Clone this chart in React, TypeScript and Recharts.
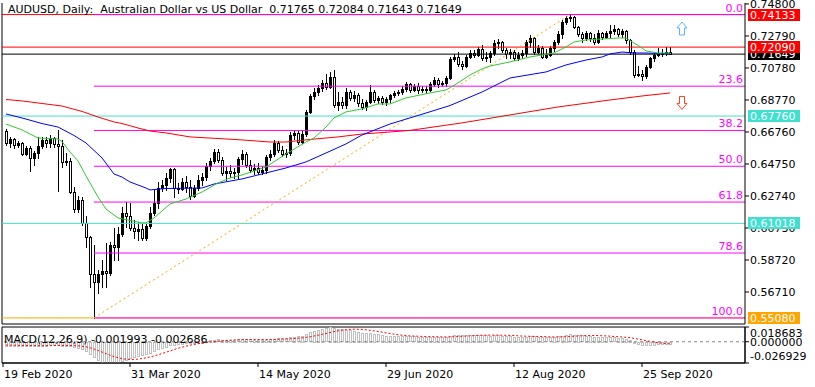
import {
  Bar,
  ComposedChart,
  Line,
  ReferenceArea,
  ReferenceDot,
  ReferenceLine,
  XAxis,
  YAxis,
} from 'recharts';

const FONT = '"DejaVu Sans", Verdana, sans-serif';

// daily bars from 19 Feb 2020: [open, high, low, close]
const candles: number[][] = [
  [0.6682, 0.6695, 0.6594, 0.6607], [0.6607, 0.6645, 0.6582, 0.6632], [0.6632, 0.6638, 0.6576, 0.6594],
  [0.6594, 0.6619, 0.6582, 0.6607], [0.6607, 0.6613, 0.6532, 0.6538], [0.6538, 0.6588, 0.6532, 0.6576],
  [0.6576, 0.6588, 0.6431, 0.6513], [0.6513, 0.6557, 0.6469, 0.6544], [0.6544, 0.6645, 0.6513, 0.6588],
  [0.6588, 0.6645, 0.6576, 0.6626], [0.6626, 0.6645, 0.6582, 0.6607], [0.6607, 0.6657, 0.6582, 0.6638],
  [0.6638, 0.6645, 0.6582, 0.6601], [0.6601, 0.6689, 0.6306, 0.6588], [0.6588, 0.6626, 0.6456, 0.6488],
  [0.6488, 0.6544, 0.6469, 0.6494], [0.6494, 0.6513, 0.6293, 0.6299], [0.6299, 0.6331, 0.6174, 0.6192],
  [0.6192, 0.6274, 0.6174, 0.6249], [0.6249, 0.6268, 0.6092, 0.6105], [0.6105, 0.6148, 0.5954, 0.6017],
  [0.6017, 0.6023, 0.5703, 0.5784], [0.5784, 0.5966, 0.5508, 0.5734], [0.5734, 0.5809, 0.5665, 0.5784],
  [0.5784, 0.5872, 0.5703, 0.5803], [0.5803, 0.5979, 0.5703, 0.5791], [0.5791, 0.5985, 0.5778, 0.5966],
  [0.5966, 0.6073, 0.5872, 0.5954], [0.5954, 0.6080, 0.5872, 0.6035], [0.6035, 0.6205, 0.6023, 0.6167],
  [0.6167, 0.6236, 0.6080, 0.6148], [0.6148, 0.6230, 0.6061, 0.6073], [0.6073, 0.6123, 0.6010, 0.6054],
  [0.6054, 0.6111, 0.5998, 0.6067], [0.6067, 0.6098, 0.5998, 0.6010], [0.6010, 0.6098, 0.5998, 0.6086],
  [0.6086, 0.6205, 0.6073, 0.6167], [0.6167, 0.6312, 0.6155, 0.6230], [0.6230, 0.6362, 0.6199, 0.6324],
  [0.6324, 0.6375, 0.6306, 0.6343], [0.6343, 0.6419, 0.6312, 0.6387], [0.6387, 0.6450, 0.6362, 0.6444],
  [0.6444, 0.6450, 0.6268, 0.6324], [0.6324, 0.6356, 0.6293, 0.6318], [0.6318, 0.6387, 0.6312, 0.6362],
  [0.6362, 0.6400, 0.6299, 0.6331], [0.6331, 0.6375, 0.6255, 0.6274], [0.6274, 0.6343, 0.6268, 0.6324],
  [0.6324, 0.6406, 0.6312, 0.6375], [0.6375, 0.6419, 0.6343, 0.6393], [0.6393, 0.6481, 0.6375, 0.6463],
  [0.6463, 0.6513, 0.6437, 0.6494], [0.6494, 0.6569, 0.6481, 0.6550], [0.6550, 0.6569, 0.6488, 0.6500],
  [0.6500, 0.6519, 0.6406, 0.6419], [0.6419, 0.6456, 0.6375, 0.6431], [0.6431, 0.6469, 0.6393, 0.6419],
  [0.6419, 0.6450, 0.6387, 0.6425], [0.6425, 0.6519, 0.6387, 0.6507], [0.6507, 0.6563, 0.6475, 0.6538],
  [0.6538, 0.6550, 0.6456, 0.6469], [0.6469, 0.6500, 0.6425, 0.6437], [0.6437, 0.6475, 0.6412, 0.6450],
  [0.6450, 0.6481, 0.6412, 0.6425], [0.6425, 0.6463, 0.6412, 0.6437], [0.6437, 0.6532, 0.6419, 0.6519],
  [0.6519, 0.6563, 0.6500, 0.6538], [0.6538, 0.6626, 0.6525, 0.6607], [0.6607, 0.6619, 0.6550, 0.6563],
  [0.6563, 0.6588, 0.6525, 0.6538], [0.6538, 0.6569, 0.6519, 0.6544], [0.6544, 0.6676, 0.6532, 0.6657],
  [0.6657, 0.6689, 0.6632, 0.6670], [0.6670, 0.6682, 0.6601, 0.6613], [0.6613, 0.6682, 0.6607, 0.6663],
  [0.6663, 0.6814, 0.6651, 0.6802], [0.6802, 0.6915, 0.6795, 0.6902], [0.6902, 0.6952, 0.6883, 0.6927],
  [0.6927, 0.6971, 0.6908, 0.6952], [0.6952, 0.7003, 0.6934, 0.6984], [0.6984, 0.7040, 0.6946, 0.6959],
  [0.6959, 0.7053, 0.6952, 0.7021], [0.7021, 0.7065, 0.6833, 0.6846], [0.6846, 0.6927, 0.6814, 0.6864],
  [0.6864, 0.6896, 0.6827, 0.6846], [0.6846, 0.6952, 0.6827, 0.6927], [0.6927, 0.6940, 0.6877, 0.6890],
  [0.6890, 0.6934, 0.6871, 0.6908], [0.6908, 0.6921, 0.6839, 0.6858], [0.6858, 0.6883, 0.6820, 0.6833],
  [0.6833, 0.6877, 0.6814, 0.6864], [0.6864, 0.6971, 0.6858, 0.6927], [0.6927, 0.6940, 0.6864, 0.6877],
  [0.6877, 0.6902, 0.6858, 0.6890], [0.6890, 0.6902, 0.6852, 0.6864], [0.6864, 0.6896, 0.6846, 0.6883],
  [0.6883, 0.6915, 0.6864, 0.6908], [0.6908, 0.6934, 0.6896, 0.6921], [0.6921, 0.6940, 0.6908, 0.6927],
  [0.6927, 0.6965, 0.6915, 0.6946], [0.6946, 0.6990, 0.6934, 0.6977], [0.6977, 0.6984, 0.6927, 0.6940],
  [0.6940, 0.6977, 0.6934, 0.6965], [0.6965, 0.6984, 0.6921, 0.6940], [0.6940, 0.6965, 0.6927, 0.6946],
  [0.6946, 0.6965, 0.6921, 0.6940], [0.6940, 0.6990, 0.6934, 0.6977], [0.6977, 0.7021, 0.6965, 0.7003],
  [0.7003, 0.7015, 0.6959, 0.6977], [0.6977, 0.6996, 0.6965, 0.6984], [0.6984, 0.7028, 0.6965, 0.7015],
  [0.7015, 0.7147, 0.7009, 0.7134], [0.7134, 0.7166, 0.7122, 0.7147], [0.7147, 0.7178, 0.7090, 0.7103],
  [0.7103, 0.7122, 0.7072, 0.7090], [0.7090, 0.7160, 0.7084, 0.7147], [0.7147, 0.7191, 0.7141, 0.7172],
  [0.7172, 0.7191, 0.7147, 0.7160], [0.7160, 0.7210, 0.7153, 0.7197], [0.7197, 0.7222, 0.7128, 0.7141],
  [0.7141, 0.7178, 0.7122, 0.7147], [0.7147, 0.7185, 0.7116, 0.7172], [0.7172, 0.7254, 0.7160, 0.7235],
  [0.7235, 0.7260, 0.7204, 0.7241], [0.7241, 0.7248, 0.7178, 0.7191], [0.7191, 0.7204, 0.7141, 0.7166],
  [0.7166, 0.7197, 0.7141, 0.7178], [0.7178, 0.7191, 0.7128, 0.7141], [0.7141, 0.7178, 0.7128, 0.7160],
  [0.7160, 0.7191, 0.7141, 0.7172], [0.7172, 0.7254, 0.7153, 0.7241], [0.7241, 0.7285, 0.7210, 0.7266],
  [0.7266, 0.7273, 0.7166, 0.7178], [0.7178, 0.7222, 0.7172, 0.7204], [0.7204, 0.7216, 0.7141, 0.7147],
  [0.7147, 0.7197, 0.7141, 0.7160], [0.7160, 0.7216, 0.7153, 0.7204], [0.7204, 0.7254, 0.7185, 0.7241],
  [0.7241, 0.7310, 0.7229, 0.7291], [0.7291, 0.7379, 0.7266, 0.7367], [0.7367, 0.7405, 0.7354, 0.7392],
  [0.7392, 0.7413, 0.7373, 0.7398], [0.7398, 0.7405, 0.7329, 0.7335], [0.7335, 0.7342, 0.7279, 0.7291],
  [0.7291, 0.7304, 0.7241, 0.7266], [0.7266, 0.7310, 0.7254, 0.7298], [0.7298, 0.7304, 0.7248, 0.7266],
  [0.7266, 0.7291, 0.7229, 0.7241], [0.7241, 0.7317, 0.7235, 0.7298], [0.7298, 0.7304, 0.7260, 0.7273],
  [0.7273, 0.7310, 0.7266, 0.7298], [0.7298, 0.7348, 0.7273, 0.7310], [0.7310, 0.7348, 0.7291, 0.7323],
  [0.7323, 0.7329, 0.7279, 0.7291], [0.7291, 0.7323, 0.7273, 0.7310], [0.7310, 0.7317, 0.7235, 0.7254],
  [0.7254, 0.7260, 0.7166, 0.7178], [0.7178, 0.7191, 0.7021, 0.7034], [0.7034, 0.7090, 0.7028, 0.7040],
  [0.7040, 0.7065, 0.7003, 0.7028], [0.7028, 0.7097, 0.7015, 0.7084], [0.7084, 0.7147, 0.7078, 0.7141],
  [0.7141, 0.7172, 0.7122, 0.7160], [0.7160, 0.7204, 0.7153, 0.7166], [0.7166, 0.7197, 0.7153, 0.7172],
  [0.7172, 0.7210, 0.7160, 0.7178], [0.71765, 0.72084, 0.71643, 0.71649],
];

const maFast = [
  [0, 0.6726], [4, 0.6689], [8, 0.6638], [13, 0.6632], [14, 0.6616], [16, 0.655], [18, 0.6494],
  [20, 0.64], [23, 0.6268], [25, 0.6192], [28, 0.6136], [34, 0.6105], [35, 0.6105], [37, 0.6136],
  [41, 0.6224], [45, 0.6255], [49, 0.6299], [53, 0.6356], [56, 0.6387], [59, 0.6406], [65, 0.6456],
  [70, 0.6538], [75, 0.6613], [77, 0.6638], [80, 0.6707], [82, 0.6764], [85, 0.6802], [89, 0.6821],
  [93, 0.6852], [96, 0.6852], [100, 0.689], [106, 0.6921], [110, 0.694], [113, 0.6984], [116, 0.7034],
  [119, 0.7072], [121, 0.709], [126, 0.7116], [131, 0.7147], [137, 0.7172], [140, 0.721], [142, 0.7241],
  [145, 0.7254], [149, 0.726], [153, 0.7266], [155, 0.7266], [157, 0.7235], [159, 0.7204], [160, 0.7185],
  [163, 0.7172], [166, 0.7172],
];
const maMid = [
  [0, 0.6789], [4, 0.6764], [9, 0.6729], [13, 0.6707], [17, 0.6654], [20, 0.6607], [24, 0.6513],
  [27, 0.6412], [29, 0.6393], [31, 0.6362], [35, 0.6324], [36, 0.6312], [40, 0.6321], [49, 0.6324],
  [52, 0.6349], [59, 0.6381], [63, 0.6406], [70, 0.645], [75, 0.6488], [80, 0.6544], [85, 0.6601],
  [89, 0.6657], [96, 0.6726], [105, 0.6795], [111, 0.6842], [119, 0.6927], [126, 0.7015], [135, 0.7053],
  [140, 0.7097], [145, 0.7128], [149, 0.7147], [151, 0.7166], [154, 0.7178], [157, 0.7172], [160, 0.7172],
  [166, 0.7166],
];
const maSlow = [
  [0, 0.688], [4, 0.6871], [9, 0.6855], [14, 0.6839], [19, 0.6805], [23, 0.677], [27, 0.6739],
  [29, 0.6729], [33, 0.6701], [36, 0.6682], [40, 0.667], [46, 0.6645], [53, 0.6635], [59, 0.6626],
  [66, 0.6613], [70, 0.6613], [76, 0.6629], [83, 0.6645], [89, 0.6663], [96, 0.6676], [101, 0.6686],
  [114, 0.6733], [126, 0.6783], [138, 0.6833], [151, 0.6877], [159, 0.6902], [166, 0.6921],
];

const macdMain = [
  -0.0045, -0.0046, -0.0047, -0.0047, -0.0049, -0.005, -0.0053, -0.0054, -0.0052, -0.0049,
  -0.0047, -0.0044, -0.0043, -0.0042, -0.0045, -0.0047, -0.0056, -0.0068, -0.0078, -0.0095,
  -0.0118, -0.0152, -0.0185, -0.0225, -0.0248, -0.0262, -0.0269, -0.0265, -0.0255, -0.0238,
  -0.0222, -0.0208, -0.0195, -0.0182, -0.017, -0.0156, -0.0135, -0.0115, -0.0095, -0.0078,
  -0.006, -0.0042, -0.0035, -0.0028, -0.002, -0.0015, -0.0013, -0.0009, -0.0003, 0.0002,
  0.001, 0.0018, 0.0028, 0.0031, 0.0028, 0.0027, 0.0025, 0.0024, 0.0031, 0.0037,
  0.0035, 0.003, 0.0027, 0.0022, 0.002, 0.0026, 0.0032, 0.0041, 0.0043, 0.0042,
  0.0042, 0.0055, 0.0066, 0.0068, 0.0075, 0.0095, 0.012, 0.0138, 0.0152, 0.0165,
  0.017, 0.0187, 0.0173, 0.0166, 0.0157, 0.0155, 0.0146, 0.0139, 0.0128, 0.0116,
  0.0109, 0.0108, 0.01, 0.0093, 0.0085, 0.0079, 0.0076, 0.0073, 0.0071, 0.007,
  0.0072, 0.0069, 0.0068, 0.0064, 0.0061, 0.0058, 0.0059, 0.0062, 0.006, 0.0059,
  0.0061, 0.0072, 0.0082, 0.0084, 0.0083, 0.0086, 0.0089, 0.0089, 0.0091, 0.0085,
  0.008, 0.0078, 0.0082, 0.0083, 0.0078, 0.0074, 0.0071, 0.0066, 0.0063, 0.0061,
  0.0066, 0.0071, 0.0067, 0.0065, 0.0059, 0.0056, 0.0056, 0.006, 0.0068, 0.0078,
  0.0086, 0.0092, 0.009, 0.0086, 0.008, 0.0077, 0.0072, 0.0066, 0.0065, 0.0061,
  0.0058, 0.0056, 0.0054, 0.0049, 0.0046, 0.0038, 0.0022, -0.0004, -0.0021, -0.0036,
  -0.0041, -0.0037, -0.0033, -0.0028, -0.0025, -0.0021, -0.002,
];
const macdSignal = [
  -0.0042, -0.0043, -0.0044, -0.0045, -0.0046, -0.0047, -0.0048, -0.0049, -0.005, -0.005,
  -0.005, -0.0049, -0.0048, -0.0047, -0.0047, -0.0046, -0.0047, -0.0049, -0.0052, -0.0057,
  -0.0064, -0.0076, -0.0092, -0.011, -0.013, -0.015, -0.017, -0.0188, -0.0203, -0.0214,
  -0.0221, -0.0224, -0.0224, -0.022, -0.0213, -0.0204, -0.0193, -0.018, -0.0165, -0.015,
  -0.0133, -0.0116, -0.01, -0.0084, -0.0069, -0.0056, -0.0044, -0.0034, -0.0025, -0.0018,
  -0.0012, -0.0006, 0.0001, 0.0007, 0.0012, 0.0016, 0.002, 0.0023, 0.0025, 0.0027,
  0.0028, 0.0029, 0.0029, 0.0029, 0.0028, 0.0028, 0.0028, 0.0029, 0.0031, 0.0033,
  0.0035, 0.0037, 0.0041, 0.0045, 0.0049, 0.0055, 0.0063, 0.0072, 0.0083, 0.0094,
  0.0105, 0.0117, 0.0128, 0.0138, 0.0146, 0.0153, 0.0157, 0.0159, 0.0158, 0.0156,
  0.0151, 0.0145, 0.0138, 0.013, 0.0121, 0.0112, 0.0104, 0.0096, 0.0089, 0.0083,
  0.0078, 0.0074, 0.0072, 0.007, 0.0068, 0.0066, 0.0065, 0.0064, 0.0063, 0.0062,
  0.0061, 0.0062, 0.0064, 0.0067, 0.0069, 0.0072, 0.0075, 0.0078, 0.0081, 0.0083,
  0.0084, 0.0084, 0.0084, 0.0084, 0.0083, 0.0082, 0.008, 0.0078, 0.0075, 0.0072,
  0.007, 0.0069, 0.0068, 0.0067, 0.0066, 0.0064, 0.0062, 0.0061, 0.0061, 0.0062,
  0.0064, 0.0067, 0.007, 0.0073, 0.0076, 0.0078, 0.0079, 0.0079, 0.0078, 0.0076,
  0.0074, 0.0071, 0.0067, 0.0064, 0.006, 0.0056, 0.0051, 0.0043, 0.0034, 0.0024,
  0.0014, 0.0005, -0.0004, -0.0012, -0.0018, -0.0023, -0.0027,
];

const priceTicks = [0.5671, 0.5872, 0.6073, 0.6274, 0.6475, 0.6676, 0.6877, 0.7078, 0.7279, 0.748];
const macdTicks = [0.018683, 0, -0.026929];
const dateTickBars = [-0.75, 31, 63, 95, 127, 159];
const dateTickLabels = ['19 Feb 2020', '31 Mar 2020', '14 May 2020', '29 Jun 2020', '12 Aug 2020', '25 Sep 2020'];

const priceLines = [
  { price: 0.5508, color: '#ffa500' },
  { price: 0.61018, color: '#40e0d0' },
  { price: 0.6776, color: '#40e0d0' },
  { price: 0.71649, color: '#000000' },
  { price: 0.7209, color: '#ff0000' },
  { price: 0.74133, color: '#ff0000' },
];

const fibLow = 0.5508;
const fibHigh = 0.74133;
const fibLowBar = 22;
const fibHighBar = 141;
const fibLevels = [0, 23.6, 38.2, 50, 61.8, 78.6, 100];

const X_MIN = -1;
const X_MAX = 184.75;
const P_MIN = 0.547;
const P_MAX = 0.7486;

const rows: any[] = candles.map((c, i) => ({
  i,
  open: c[0],
  high: c[1],
  low: c[2],
  close: c[3],
  macd: macdMain[i],
  signal: macdSignal[i],
  fast: null,
  mid: null,
  slow: null,
}));
maFast.forEach(([b, v]) => (rows[b].fast = v));
maMid.forEach(([b, v]) => (rows[b].mid = v));
maSlow.forEach(([b, v]) => (rows[b].slow = v));

const Candle = (props: any) => {
  const { x, y, width, height, payload } = props;
  if (!payload || payload.high == null) return null;
  const { open, high, low, close } = payload;
  const top = Math.min(y, y + height);
  const h = Math.abs(height);
  const k = high === low ? 0 : h / (high - low);
  const cx = Math.round(x + width / 2);
  const yo = top + (high - open) * k;
  const yc = top + (high - close) * k;
  const bTop = Math.round(Math.min(yo, yc));
  const bBot = Math.round(Math.max(yo, yc));
  const bull = close >= open;
  return (
    <g>
      <line x1={cx + 0.5} x2={cx + 0.5} y1={Math.round(top)} y2={Math.round(top + h) + 1} stroke="#000" />
      <rect x={cx - 0.5} y={bTop + 0.5} width={2} height={Math.max(bBot - bTop, 0)} fill={bull ? '#000' : '#fff'} stroke="#000" />
    </g>
  );
};

const MacdBar = (props: any) => {
  const { x, y, width, height } = props;
  if (x == null || y == null) return null;
  const cx = Math.round(x + width / 2);
  const top = Math.round(Math.min(y, y + height));
  const h = Math.max(Math.round(Math.abs(height)), 1);
  return <rect x={cx - 0.5} y={top + 0.5} width={2} height={h} fill="none" stroke="#c0c0c0" />;
};

const PriceTag = (props: any) => {
  const { viewBox, text, bg } = props;
  if (!viewBox) return null;
  const x = viewBox.x + viewBox.width + 3;
  const y = Math.round(viewBox.y);
  return (
    <g>
      <rect x={x} y={y - 6} width={52} height={12} fill={bg} />
      <text x={x + 2} y={y + 4} fill="#fff" fontSize={11} fontFamily={FONT}>
        {text}
      </text>
    </g>
  );
};

const FibLabel = (props: any) => {
  const { viewBox, text } = props;
  if (!viewBox) return null;
  return (
    <text x={viewBox.x + viewBox.width - 2} y={viewBox.y - 3} textAnchor="end" fill="#ff00ff" fontSize={11} fontFamily={FONT}>
      {text}
    </text>
  );
};

const Arrow = (props: any) => {
  const { cx, cy, up, color } = props;
  const s = up ? 1 : -1;
  const pts = [
    [-5, 0], [0, -6], [5, 0], [2.5, 0], [2.5, 7], [-2.5, 7], [-2.5, 0],
  ]
    .map(([px, py]) => `${cx + px},${cy + s * py}`)
    .join(' ');
  return <polygon points={pts} fill="#fff" stroke={color} strokeWidth={1} />;
};

const DateTick = (props: any) => {
  const { x, y, index } = props;
  return (
    <text x={x + 1} y={y + 9} fontSize={11} fontFamily={FONT} fill="#000">
      {dateTickLabels[index]}
    </text>
  );
};

const MacdTick = (props: any) => {
  const { x, y, payload } = props;
  const v = payload.value;
  const dy = v > 0 ? 6 : v < 0 ? -7 : 0;
  return (
    <text x={x} y={y + dy + 4} fontSize={11} fontFamily={FONT} fill="#000">
      {v.toFixed(6)}
    </text>
  );
};

export default function App() {
  const fibRange = fibHigh - fibLow;
  const box = { position: 'absolute' as const, left: 0, top: 0 };
  return (
    <div style={{ position: 'absolute', left: 0, top: 0, width: 815, height: 387, background: '#fff', fontFamily: FONT }}>
      <div style={box}>
        <ComposedChart width={815} height={326} data={rows} margin={{ top: 3, right: 0, bottom: 2, left: 2 }}>
          <XAxis dataKey="i" type="number" domain={[X_MIN, X_MAX]} hide allowDataOverflow />
          <YAxis
            orientation="right"
            width={70}
            domain={[P_MIN, P_MAX]}
            allowDataOverflow
            ticks={priceTicks}
            interval={0}
            tickFormatter={(v: number) => v.toFixed(5)}
            tick={{ fontSize: 11, fill: '#000', fontFamily: FONT }}
            tickSize={4}
            tickMargin={1}
            axisLine={{ stroke: '#000' }}
            tickLine={{ stroke: '#000' }}
          />
          <ReferenceLine x={X_MIN} stroke="#000" />
          <ReferenceLine y={P_MIN} stroke="#000" />
          {priceLines.map((p) => (
            <ReferenceLine key={p.price} y={p.price} stroke={p.color} />
          ))}
          {fibLevels.map((lv) => {
            const v = fibHigh - (fibRange * lv) / 100;
            return (
              <ReferenceLine
                key={lv}
                segment={[{ x: fibLowBar, y: v }, { x: X_MAX, y: v }]}
                stroke="#ff00ff"
                label={<FibLabel text={lv.toFixed(1)} />}
              />
            );
          })}
          <ReferenceLine
            segment={[{ x: fibLowBar, y: fibLow }, { x: fibHighBar, y: fibHigh }]}
            stroke="#ffa500"
            strokeDasharray="2 3"
          />
          <Line dataKey="slow" stroke="#ff0000" dot={false} connectNulls isAnimationActive={false} strokeWidth={1} />
          <Line dataKey="mid" stroke="#0000ff" dot={false} connectNulls isAnimationActive={false} strokeWidth={1} />
          <Line dataKey="fast" stroke="#32c832" dot={false} connectNulls isAnimationActive={false} strokeWidth={1} />
          <Bar dataKey={(d: any) => [d.low, d.high]} shape={Candle} barSize={3} isAnimationActive={false} />
          <ReferenceDot x={169} y={0.7329} r={0} shape={(p: any) => <Arrow {...p} up color="#5ab4ff" />} />
          <ReferenceDot x={169} y={0.6855} r={0} shape={(p: any) => <Arrow {...p} up={false} color="#ff4020" />} />
        </ComposedChart>
      </div>
      {/* price tags drawn on a second layer so they sit above the axis labels */}
      <div style={box}>
        <ComposedChart width={815} height={326} data={rows} margin={{ top: 3, right: 0, bottom: 2, left: 2 }}>
          <XAxis dataKey="i" type="number" domain={[X_MIN, X_MAX]} hide allowDataOverflow />
          <YAxis
            orientation="right"
            width={70}
            domain={[P_MIN, P_MAX]}
            allowDataOverflow
            tick={false}
            axisLine={false}
            tickLine={false}
          />
          {priceLines.map((p) => (
            <ReferenceLine
              key={p.price}
              y={p.price}
              stroke="transparent"
              label={<PriceTag text={p.price.toFixed(5)} bg={p.color} />}
            />
          ))}
        </ComposedChart>
      </div>
      <div style={{ position: 'absolute', left: 0, top: 326 }}>
        <ComposedChart width={815} height={61} data={rows} margin={{ top: 1, right: 0, bottom: 0, left: 2 }}>
          <XAxis
            dataKey="i"
            type="number"
            domain={[X_MIN, X_MAX]}
            allowDataOverflow
            ticks={dateTickBars}
            interval={0}
            height={24}
            tick={<DateTick />}
            tickSize={4}
            tickMargin={2}
            axisLine={{ stroke: '#000' }}
            tickLine={{ stroke: '#000' }}
          />
          <YAxis
            orientation="right"
            width={70}
            domain={[-0.026929, 0.018683]}
            allowDataOverflow
            ticks={macdTicks}
            interval={0}
            tick={<MacdTick />}
            tickSize={4}
            tickMargin={1}
            axisLine={{ stroke: '#000' }}
            tickLine={{ stroke: '#000' }}
          />
          <ReferenceArea x1={X_MIN} x2={X_MAX} y1={-0.026929} y2={0.018683} stroke="#000" fill="none" />
          <ReferenceLine y={0} stroke="#8a8a8a" strokeDasharray="3 3" />
          <Bar dataKey="macd" shape={MacdBar} barSize={3} isAnimationActive={false} />
          <Line dataKey="signal" stroke="#ff0000" strokeDasharray="2 2" dot={false} isAnimationActive={false} strokeWidth={1} />
        </ComposedChart>
      </div>
      <div style={{ position: 'absolute', left: 8, top: 3, fontSize: 11, lineHeight: '13px', whiteSpace: 'pre', color: '#000' }}>
        {'AUDUSD, Daily:  Australian Dollar vs US Dollar  0.71765 0.72084 0.71643 0.71649'}
      </div>
      <div style={{ position: 'absolute', left: 4, top: 333, fontSize: 11, lineHeight: '13px', whiteSpace: 'pre', color: '#000' }}>
        {'MACD(12,26,9) -0.001993 -0.002686'}
      </div>
    </div>
  );
}
